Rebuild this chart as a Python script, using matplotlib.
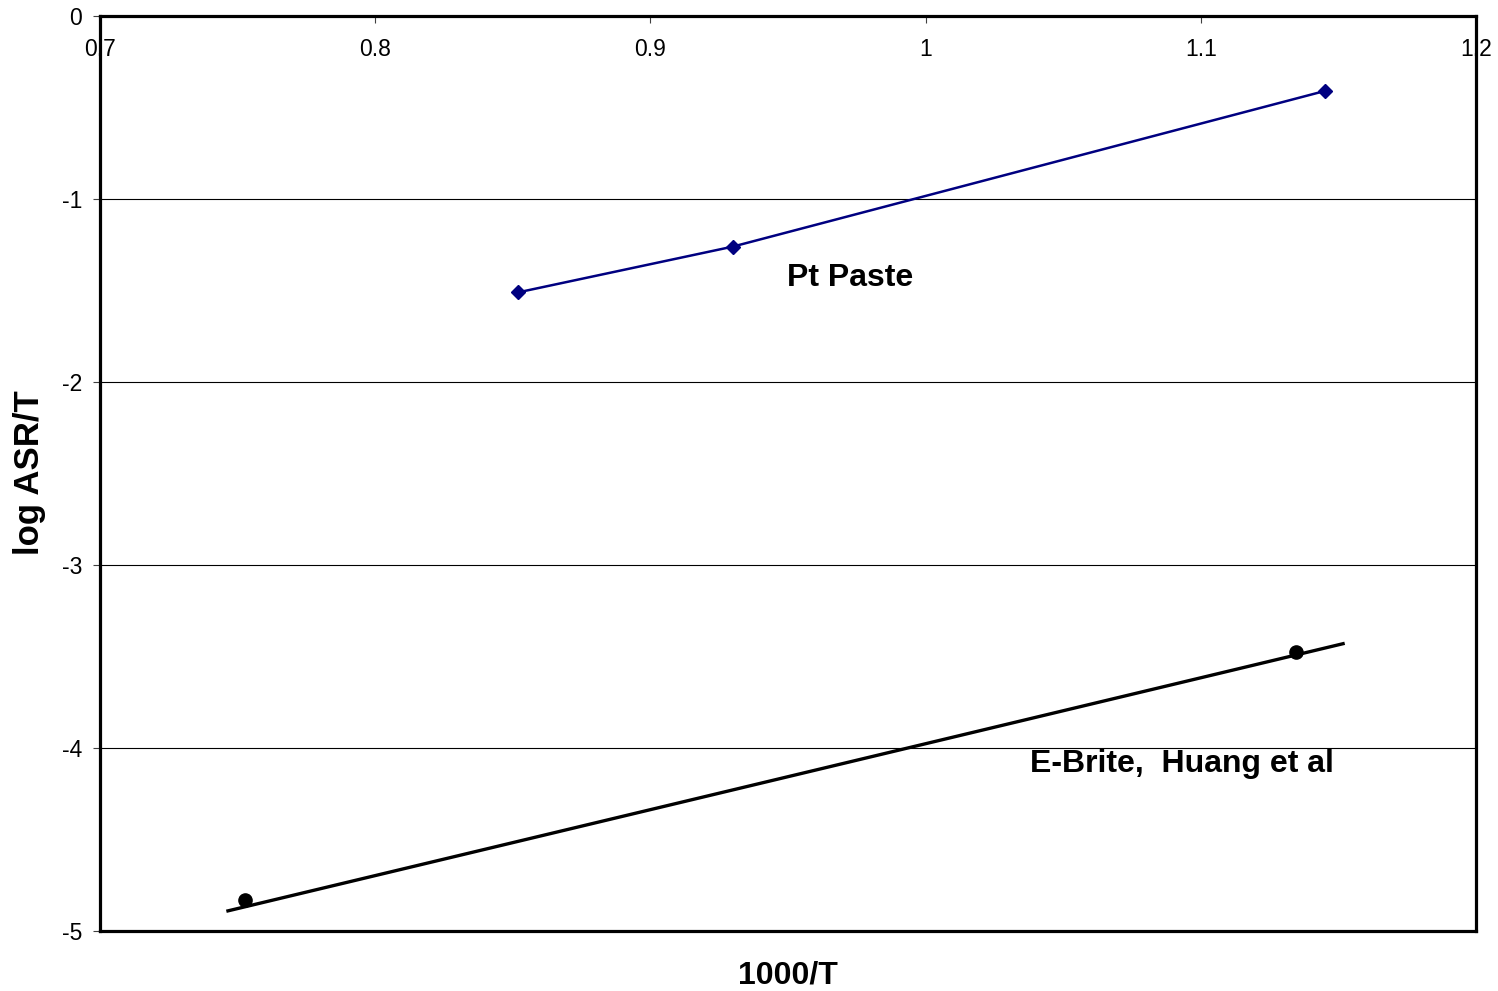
import numpy as np
import matplotlib
matplotlib.use("Agg")
import matplotlib.pyplot as plt
import matplotlib.transforms as mtransforms

# Pt paste measurements
pt_x = [0.852, 0.930, 1.145]
pt_y = [-1.51, -1.26, -0.41]

# E-Brite (Huang et al) points and fitted line ends
eb_x = [0.7527, 1.1346]
eb_y = [-4.83, -3.475]
fit_x = [0.7465, 1.1517]
fit_y = [-4.89, -3.43]

x_ticks = [0.7, 0.8, 0.9, 1.0, 1.1, 1.2]
x_labels = ["0.7", "0.8", "0.9", "1", "1.1", "1.2"]
y_ticks = [0, -1, -2, -3, -4, -5]
y_labels = ["0", "-1", "-2", "-3", "-4", "-5"]

plt.rcParams['font.family'] = ['Liberation Sans', 'DejaVu Sans']

fig = plt.figure(figsize=(14.98, 9.91), dpi=100)
ax = fig.add_axes([100 / 1498, 1 - 931 / 991, 1376 / 1498, 915 / 991])

ax.set_xlim(0.7, 1.2)
ax.set_ylim(-5, 0)

# horizontal gridlines
for yv in y_ticks[1:-1]:
    ax.axhline(yv, color="black", lw=0.8, zorder=1)

ax.plot(pt_x, pt_y, color="#000080", lw=1.8, marker="D", ms=7.2, zorder=3)
ax.plot(fit_x, fit_y, color="black", lw=2.4, zorder=3)
ax.plot(eb_x, eb_y, "o", color="black", ms=9.5, zorder=3)

ax.text(0.9725, -1.43, "Pt Paste", fontsize=23, fontweight="bold", ha="center", va="center")
ax.text(1.038, -4.09, "E-Brite,  Huang et al", fontsize=23, fontweight="bold", ha="left", va="center")

for s in ax.spines.values():
    s.set_linewidth(2.3)
    s.set_color("black")

# x ticks on the top spine, pointing in; labels drawn just under it
ax.xaxis.set_ticks_position("top")
ax.set_xticks(x_ticks)
ax.tick_params(axis="x", direction="in", length=5, width=0.8, color="#404040", labeltop=False, labelbottom=False)
trans = mtransforms.blended_transform_factory(ax.transData, ax.transAxes)
for xv, lab in zip(x_ticks, x_labels):
    ax.text(xv, 1 - 34 / 915, lab, transform=trans, fontsize=16.5, ha="center", va="center", zorder=1)

ax.set_yticks(y_ticks)
ax.set_yticklabels(y_labels, fontsize=16.5)
ax.tick_params(axis="y", direction="out", length=5, width=0.8, color="#404040", pad=8)

fig.text(788 / 1498, 1 - 975 / 991, "1000/T", fontsize=23, fontweight="bold", ha="center", va="center")
fig.text(30 / 1498, 1 - 473 / 991, "log ASR/T", fontsize=25, fontweight="bold", ha="center", va="center", rotation=90)

fig.savefig("out.png", dpi=100)
